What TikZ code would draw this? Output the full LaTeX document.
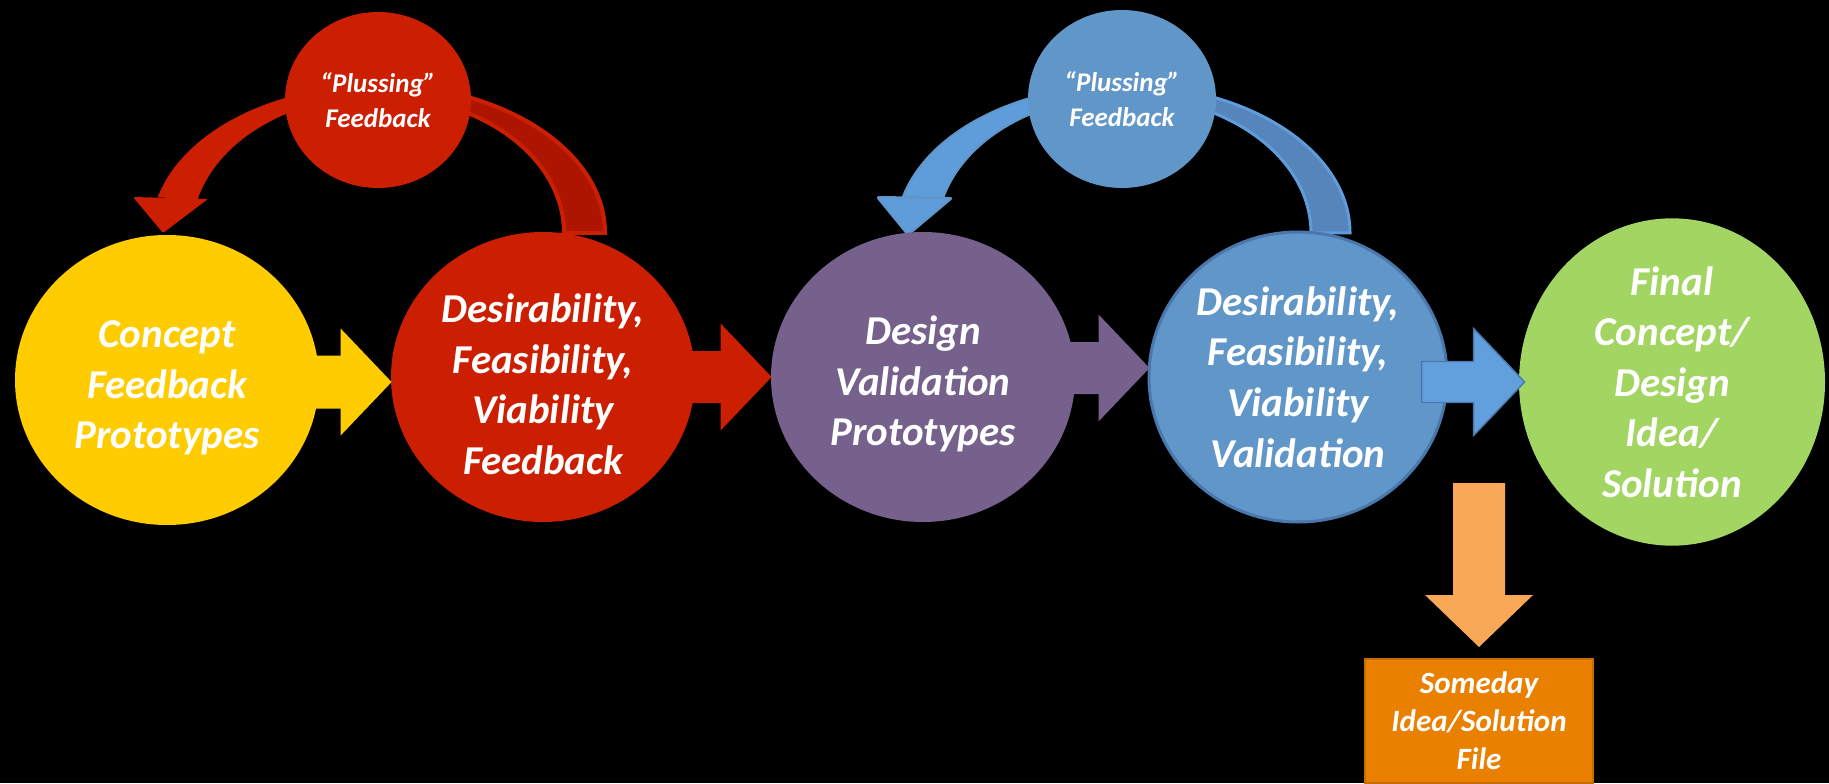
\documentclass[tikz,border=0pt]{standalone}
\usepackage{fontspec}
\setmainfont{Carlito}
\usetikzlibrary{shapes.geometric,positioning,calc}
\definecolor{stage-yellow}{HTML}{FFCC00}
\definecolor{stage-red}{HTML}{CC1E00}
\definecolor{stage-red-back}{HTML}{AE1500}
\definecolor{stage-purple}{HTML}{76608C}
\definecolor{stage-blue}{HTML}{6196C9}
\definecolor{stage-blue-edge}{HTML}{4A78AC}
\definecolor{stage-blue-front}{HTML}{5E9CDA}
\definecolor{stage-blue-back}{HTML}{5585BB}
\definecolor{stage-blue-arrow}{HTML}{62A0DD}
\definecolor{stage-green}{HTML}{A2D561}
\definecolor{drop-orange}{HTML}{F9A857}
\definecolor{file-orange}{HTML}{E98000}
\definecolor{file-glow}{HTML}{C86C00}

% block arrow: style, tip, shaft half height, shaft length
\newcommand{\blockarrow}[4]{%
  \path[#1] (#2) -- ++(-51,53.5) -- ++(0,{#3-53.5}) -- ++(-#4,0)
    -- ++(0,{-2*#3}) -- ++(#4,0) -- ++(0,{#3-53.5}) -- cycle;}
% taller first line, pushes the text block down a little
\newcommand{\topgap}{\rule{0pt}{21.5pt}}

\begin{document}
\begin{tikzpicture}[x=0.5pt, y=0.5pt,
    stage/.style={ellipse, inner sep=0pt, minimum width=152pt, minimum height=145pt, text=white, align=center, font=\bfseries\itshape\fontsize{20.5}{25.3}\selectfont},
    plus/.style={ellipse, inner sep=0pt, minimum width=93pt, minimum height=88pt, text=white, align=center, font=\bfseries\itshape\fontsize{13.5}{17.5}\selectfont}]

    \fill[black] (0,0) rectangle (1829,783);
    \useasboundingbox (0,0) rectangle (1829,783);

    % feedback loops
    \coordinate (redloop) at (378,550);
    \coordinate (blueloop) at (1123,550);

    \filldraw[fill=stage-red-back, draw=stage-red, line width=2pt] ($(redloop)+(90:227 and 148)$) arc[start angle=90, end angle=0, x radius=227, y radius=148]
        -- ($(redloop)+(0:186 and 137)$) arc[start angle=0, end angle=90, x radius=186, y radius=137] -- cycle;
    \fill[stage-red] ($(redloop)+(90:227 and 148)$) arc[start angle=90, end angle=166, x radius=227, y radius=148]
        -- ($(redloop)+(166:186 and 137)$) arc[start angle=166, end angle=90, x radius=186, y radius=137] -- cycle;
    \fill[stage-red, rounded corners=1pt] ($(redloop)+(-245,36)$) -- ($(redloop)+(-170,34)$) -- ($(redloop)+(-215,0)$) -- cycle;

    \filldraw[fill=stage-blue-back, draw=stage-blue-front, line width=1.5pt] ($(blueloop)+(90:227 and 148)$) arc[start angle=90, end angle=0, x radius=227, y radius=148]
        -- ($(blueloop)+(0:188 and 137)$) arc[start angle=0, end angle=90, x radius=188, y radius=137] -- cycle;
    \filldraw[fill=stage-blue-front, draw=stage-blue, line width=1pt] ($(blueloop)+(90:227 and 148)$) arc[start angle=90, end angle=166, x radius=227, y radius=148]
        -- ($(blueloop)+(166:186 and 137)$) arc[start angle=166, end angle=90, x radius=186, y radius=137] -- cycle;
    \filldraw[fill=stage-blue-front, draw=stage-blue, line width=1pt, rounded corners=1pt] ($(blueloop)+(-246,36)$) -- ($(blueloop)+(-171,35)$) -- ($(blueloop)+(-215,-2)$) -- cycle;

    \node[plus, fill=stage-red] (plusred) at (378,683) {“Plussing”\\Feedback};
    \node[plus, fill=stage-blue, minimum width=94pt, minimum height=89pt] (plusblue) at (1122,684) {“Plussing”\\Feedback};

    % stages
    \node[stage, fill=stage-yellow] (concept) at (167,403) {\topgap Concept\\Feedback\\Prototypes};
    \node[stage, fill=stage-red] (feedback) at (543,406) {\topgap Desirability,\\Feasibility,\\Viability\\Feedback};
    \node[stage, fill=stage-purple] (design) at (923,406) {\topgap Design\\Validation\\Prototypes};
    \node[stage, fill=stage-blue, draw=stage-blue-edge, line width=1.5pt, minimum width=149pt] (validation) at (1298,406) {Desirability,\\Feasibility,\\Viability\\Validation};
    \node[stage, fill=stage-green, minimum width=153pt] (final) at (1672,401) {Final\\Concept/\\Design\\Idea/\\Solution};

    \node[fill=file-orange, draw=file-glow, line width=1pt, minimum width=114pt, minimum height=62pt, text=white, align=center, font=\bfseries\itshape\fontsize{15.5}{19}\selectfont] (someday) at (1479,62) {Someday\\Idea/Solution\\File};

    \blockarrow{fill=stage-yellow}{$(feedback.west)+(1,-5)$}{26.5}{60}
    \blockarrow{fill=stage-red}{$(design.west)+(1,0)$}{26}{60}
    \blockarrow{fill=stage-purple}{$(validation.west)+(2,9)$}{26}{60}
    \blockarrow{fill=stage-blue-arrow, draw=stage-blue-edge, line width=0.7pt}{$(final.west)+(6,0)$}{20.5}{52}

    \coordinate (drop) at ($(someday.north)+(0,11)$);
    \fill[drop-orange] (drop) -- ++(54,52) -- ++(-28,0) -- ++(0,112) -- ++(-52,0) -- ++(0,-112) -- ++(-28,0) -- cycle;

\end{tikzpicture}
\end{document}
